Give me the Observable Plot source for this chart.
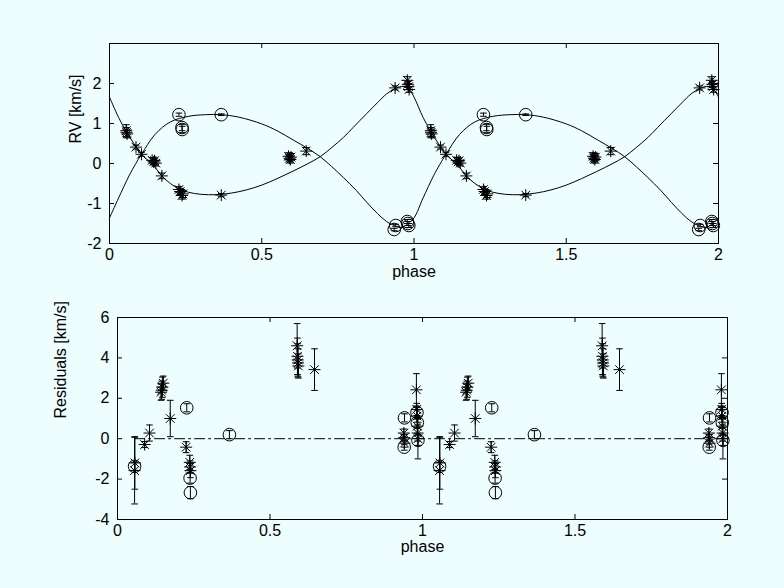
<!DOCTYPE html>
<html>
<head>
<meta charset="utf-8">
<script src="https://cdn.jsdelivr.net/npm/d3@7"></script>
<script src="https://cdn.jsdelivr.net/npm/@observablehq/plot@0.6"></script>
<style>
  html, body { margin: 0; padding: 0; background: #eefdfd; }
  #fig { position: relative; width: 784px; height: 588px; background: #eefdfd; overflow: hidden; }
  svg text { font-family: "Liberation Sans", Arial, Helvetica, sans-serif; font-size: 16px; fill: black; }
</style>
</head>
<body>
<div id="fig"></div>
<script>
// ---------- tick labels ----------
const phaseTicks = [0, 0.5, 1, 1.5, 2];
const rvTicks = [-2, -1, 0, 1, 2];
const resTicks = [-4, -2, 0, 2, 4, 6];
const cycles = [0, 1];

// ---------- model curves (phase 0..1) ----------
const curvePhase1 = [0.0, 0.03, 0.055, 0.08, 0.105, 0.145, 0.172, 0.2, 0.23, 0.26, 0.3, 0.35, 0.4, 0.45, 0.5, 0.55, 0.6, 0.65, 0.692, 0.73, 0.768, 0.8, 0.845, 0.88, 0.91, 0.938, 0.965, 0.985, 1.0];
const curveRV1 = [1.66, 1.15, 0.80, 0.50, 0.23, -0.05, -0.31, -0.50, -0.64, -0.72, -0.77, -0.78, -0.74, -0.66, -0.54, -0.38, -0.20, -0.01, 0.17, 0.40, 0.65, 0.90, 1.25, 1.52, 1.74, 1.87, 1.93, 1.84, 1.66];
const curvePhase2 = [0.0, 0.03, 0.064, 0.085, 0.105, 0.15, 0.2, 0.26, 0.315, 0.367, 0.424, 0.5, 0.55, 0.605, 0.65, 0.692, 0.73, 0.768, 0.81, 0.845, 0.88, 0.91, 0.94, 0.96, 0.98, 1.0];
const curveRV2 = [-1.36, -0.86, -0.31, -0.02, 0.23, 0.73, 1.04, 1.18, 1.22, 1.22, 1.16, 0.99, 0.82, 0.58, 0.38, 0.17, -0.08, -0.35, -0.67, -0.97, -1.25, -1.45, -1.57, -1.60, -1.50, -1.36];

// ---------- RV observations ----------
const rvStarPhase = [0.055, 0.056, 0.058, 0.087, 0.105, 0.14, 0.145, 0.148, 0.152, 0.172, 0.228, 0.232, 0.238, 0.241, 0.367, 0.588, 0.591, 0.594, 0.596, 0.646, 0.938, 0.978, 0.980, 0.982, 0.984];
const rvStarVal = [0.82, 0.78, 0.74, 0.41, 0.23, 0.08, 0.04, 0.07, 0.01, -0.31, -0.65, -0.70, -0.80, -0.76, -0.79, 0.18, 0.13, 0.10, 0.16, 0.31, 1.89, 2.08, 1.98, 1.92, 1.85];
const rvStarErr = [0.15, 0.12, 0.10, 0.05, 0.05, 0.07, 0.07, 0.07, 0.07, 0.07, 0.07, 0.07, 0.09, 0.09, 0.04, 0.09, 0.09, 0.09, 0.09, 0.09, 0.05, 0.09, 0.07, 0.07, 0.07];
const rvCirclePhase = [0.228, 0.238, 0.239, 0.367, 0.935, 0.940, 0.978, 0.980, 0.983];
const rvCircleVal = [1.22, 0.90, 0.85, 1.22, -1.65, -1.55, -1.45, -1.50, -1.55];
const rvCircleErr = [0.04, 0.08, 0.08, 0.02, 0.03, 0.03, 0.05, 0.05, 0.05];

// ---------- residuals ----------
const resStarPhase = [0.056, 0.057, 0.089, 0.105, 0.143, 0.145, 0.147, 0.150, 0.173, 0.225, 0.237, 0.238, 0.239, 0.589, 0.590, 0.591, 0.592, 0.593, 0.646, 0.939, 0.940, 0.941, 0.980, 0.981, 0.982, 0.983, 0.984, 0.985];
const resStarVal = [-1.58, -1.20, -0.29, 0.28, 2.30, 2.40, 2.55, 2.75, 1.00, -0.42, -1.17, -1.40, -1.58, 4.60, 4.08, 3.90, 3.75, 3.60, 3.42, 0.28, 0.05, -0.22, 2.42, 1.45, 1.12, 0.62, 0.28, 0.00];
const resStarErr = [1.65, 1.30, 0.15, 0.40, 0.40, 0.45, 0.50, 0.35, 0.90, 0.27, 0.35, 0.30, 0.35, 1.10, 0.90, 0.80, 0.70, 0.60, 1.03, 0.20, 0.15, 0.20, 0.80, 0.30, 0.30, 0.35, 0.40, 1.00];
const resCirclePhase = [0.056, 0.227, 0.238, 0.239, 0.367, 0.941, 0.940, 0.982, 0.983, 0.985];
const resCircleVal = [-1.37, 1.53, -1.95, -2.67, 0.20, 1.03, -0.42, 1.30, 0.80, -0.08];
const resCircleErr = [0.20, 0.20, 0.25, 0.30, 0.20, 0.20, 0.15, 0.25, 0.25, 0.25];

// ---------- helpers ----------
const fold = (ph, val, err) => cycles.flatMap(c => ph.map((p, i) => ({x: p + c, y: val[i], e: err ? err[i] : 0})));
const foldCurve = (ph, val) => cycles.flatMap(c => ph.map((p, i) => ({x: p + c, y: val[i]})).filter((d, i) => c === 0 || i > 0));

const starSym = {draw(ctx, size) {
  const r = Math.sqrt(size / Math.PI), d = r * 0.72;
  ctx.moveTo(-r, 0); ctx.lineTo(r, 0);
  ctx.moveTo(0, -r); ctx.lineTo(0, r);
  ctx.moveTo(-d, -d); ctx.lineTo(d, d);
  ctx.moveTo(-d, d); ctx.lineTo(d, -d);
}};
const capSym = {draw(ctx, size) {
  const r = Math.sqrt(size / Math.PI);
  ctx.moveTo(-r, 0); ctx.lineTo(r, 0);
}};

function errMarks(rows) {
  return [
    Plot.ruleX(rows, {x: "x", y1: d => d.y - d.e, y2: d => d.y + d.e, stroke: "black", strokeWidth: 1}),
    Plot.dot(rows, {x: "x", y: d => d.y - d.e, symbol: capSym, r: 3.3, stroke: "black", fill: "none", strokeWidth: 1}),
    Plot.dot(rows, {x: "x", y: d => d.y + d.e, symbol: capSym, r: 3.3, stroke: "black", fill: "none", strokeWidth: 1})
  ];
}

function innerTicks(xt, yt, w, h) {
  const t = 5;
  return [
    Plot.tickX(xt, {x: d => d, insetTop: h - t, stroke: "black"}),
    Plot.tickX(xt, {x: d => d, insetBottom: h - t, stroke: "black"}),
    Plot.tickY(yt, {y: d => d, insetRight: w - t, stroke: "black"}),
    Plot.tickY(yt, {y: d => d, insetLeft: w - t, stroke: "black"})
  ];
}

const fig = document.getElementById("fig");
const fmt = d => String(d);

// ---------- top panel ----------
{
  const W = 784, H = 294, mL = 109, mR = 66, mT = 43, mB = 51;
  const stars = fold(rvStarPhase, rvStarVal, rvStarErr);
  const circs = fold(rvCirclePhase, rvCircleVal, rvCircleErr);
  const p = Plot.plot({
    width: W, height: H,
    marginLeft: mL, marginRight: mR, marginTop: mT, marginBottom: mB,
    style: {background: "transparent", fontSize: "16px", fontFamily: "Liberation Sans, Arial, sans-serif", color: "black"},
    x: {domain: [0, 2], ticks: phaseTicks, tickFormat: fmt, tickSize: 0, tickPadding: 5, label: null},
    y: {domain: [-2, 3], ticks: rvTicks, tickFormat: fmt, tickSize: 0, tickPadding: 8, label: null},
    marks: [
      Plot.line(foldCurve(curvePhase1, curveRV1), {x: "x", y: "y", curve: "catmull-rom", stroke: "black", strokeWidth: 1}),
      Plot.line(foldCurve(curvePhase2, curveRV2), {x: "x", y: "y", curve: "catmull-rom", stroke: "black", strokeWidth: 1}),
      ...errMarks(stars),
      ...errMarks(circs),
      Plot.dot(stars, {x: "x", y: "y", symbol: starSym, r: 6, stroke: "black", fill: "none", strokeWidth: 1}),
      Plot.dot(circs, {x: "x", y: "y", r: 6.3, stroke: "black", fill: "none", strokeWidth: 1}),
      ...innerTicks(phaseTicks, rvTicks, W - mL - mR, H - mT - mB),
      Plot.frame({stroke: "black", strokeWidth: 1}),
      Plot.text(["phase"], {text: d => d, frameAnchor: "bottom", dy: 33, fill: "black"}),
      Plot.text(["RV [km/s]"], {text: d => d, frameAnchor: "left", dx: -34, rotate: -90, fill: "black"})
    ]
  });
  p.style.position = "absolute"; p.style.top = "0px"; p.style.left = "0px";
  fig.appendChild(p);
}

// ---------- bottom panel ----------
{
  const W = 784, H = 294, mL = 117, mR = 57, mT = 23, mB = 69;
  const stars = fold(resStarPhase, resStarVal, resStarErr);
  const circs = fold(resCirclePhase, resCircleVal, resCircleErr);
  const allX = stars.concat(circs).map(d => d.x);
  const zeroLine = d3.extent(allX).map(x => ({x, y: 0}));
  const p = Plot.plot({
    width: W, height: H,
    marginLeft: mL, marginRight: mR, marginTop: mT, marginBottom: mB,
    style: {background: "transparent", fontSize: "16px", fontFamily: "Liberation Sans, Arial, sans-serif", color: "black"},
    x: {domain: [0, 2], ticks: phaseTicks, tickFormat: fmt, tickSize: 0, tickPadding: 5, label: null},
    y: {domain: [-4, 6], ticks: resTicks, tickFormat: fmt, tickSize: 0, tickPadding: 8, label: null},
    marks: [
      Plot.line(zeroLine, {x: "x", y: "y", stroke: "black", strokeWidth: 1, strokeDasharray: "10,4,2,4"}),
      ...errMarks(stars),
      ...errMarks(circs),
      Plot.dot(stars, {x: "x", y: "y", symbol: starSym, r: 6, stroke: "black", fill: "none", strokeWidth: 1}),
      Plot.dot(circs, {x: "x", y: "y", r: 6.3, stroke: "black", fill: "none", strokeWidth: 1}),
      ...innerTicks(phaseTicks, resTicks, W - mL - mR, H - mT - mB),
      Plot.frame({stroke: "black", strokeWidth: 1}),
      Plot.text(["phase"], {text: d => d, frameAnchor: "bottom", dy: 32, fill: "black"}),
      Plot.text(["Residuals [km/s]"], {text: d => d, frameAnchor: "left", dx: -57, rotate: -90, fill: "black"})
    ]
  });
  p.style.position = "absolute"; p.style.top = "294px"; p.style.left = "0px";
  fig.appendChild(p);
}
</script>
</body>
</html>
